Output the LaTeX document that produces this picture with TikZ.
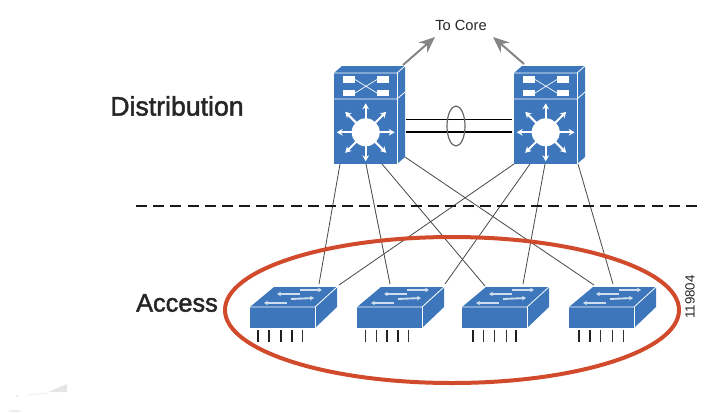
\documentclass[tikz,border=0pt]{standalone}
\usepackage{fontspec}
\setmainfont{Liberation Sans}
\newfontfamily\semibold[FakeBold=1.8]{Liberation Sans}
\usetikzlibrary{arrows.meta}
\definecolor{ciscoblue}{HTML}{3D76BB}
\definecolor{ringred}{HTML}{D04A2B}
\tikzset{
  x=0.75pt,y=-0.75pt,
  faceline/.style={draw=white,line width=0.6pt},
  link/.style={draw=black!72,line width=0.6pt},
  whitearrow/.style={draw=white,line width=1.5pt,-{Stealth[length=4.5pt,width=5pt]}},
  toparrow/.style={draw=white!75!ciscoblue,line width=1.4pt,-{Stealth[length=3pt,width=3.5pt]}},
  uplink/.style={draw=black!48,line width=1.5pt,-{Stealth[length=12pt,width=10pt]}},
  portthick/.style={draw=black!88,line width=1.1pt},
  portthin/.style={draw=black!80,line width=0.6pt},
  dist/.pic={
    \fill[ciscoblue] (0,7)--(8,0)--(71,0)--(63,7)--cycle;
    \fill[ciscoblue] (0,7) rectangle (63,98);
    \fill[ciscoblue] (63,7)--(71,0)--(71,91)--(63,98)--cycle;
    \draw[faceline] (0,7)--(63,7)--(71,0);
    \draw[faceline] (63,7)--(63,98);
    \draw[faceline] (0,33)--(63,33)--(71,26);
    \fill[white] (9,10) rectangle (21,17);
    \fill[white] (43,10) rectangle (55,17);
    \fill[white] (9,24) rectangle (21,30);
    \fill[white] (43,24) rectangle (55,30);
    \draw[white,line width=0.5pt] (21,13.5)--(43,27);
    \draw[white,line width=0.5pt] (21,27)--(43,13.5);
    \fill[white] (31.7,66.3) circle (14);
    \foreach \a in {0,45,...,315}{
      \draw[whitearrow] (31.7,66.3)++(\a:-13)--++(\a:-16);
    }
  },
  acc/.pic={
    \fill[ciscoblue] (0,20)--(24,0)--(87,0)--(65,20)--cycle;
    \fill[ciscoblue] (0,20) rectangle (65,41);
    \fill[ciscoblue] (65,20)--(87,0)--(87,20)--(65,41)--cycle;
    \draw[faceline] (0,20)--(65,20)--(87,0);
    \draw[faceline] (65,20)--(65,41);
    \draw[toparrow] (50,3)--(72,3);
    \draw[toparrow] (50,7)--(27,7);
    \draw[toparrow] (41,12)--(64,11);
    \draw[toparrow] (37,16)--(14,16);
  }
}
\begin{document}
\begin{tikzpicture}
\useasboundingbox (0,0) rectangle (720,412);
% faint smudge
\fill[black!10] (48,392)--(67,384)--(67,392)--cycle;
\draw[black!6,line width=0.8pt] (27,395)--(48,393);
\draw[black!6,line width=0.8pt] (16,396)--(19,396);
\draw[black!7,line width=0.8pt] (9,411)--(20,411);
% anchors
\coordinate (l1) at (340,164); \coordinate (l2) at (366,164);
\coordinate (l3) at (382,164); \coordinate (l4) at (405,157);
\coordinate (r1) at (514,164); \coordinate (r2) at (530,164);
\coordinate (r3) at (545,164); \coordinate (r4) at (578,164);
\coordinate (a1) at (319,284); \coordinate (a2) at (339,285);
\coordinate (a3) at (390,284); \coordinate (a4) at (445,284);
\coordinate (a5) at (485,286); \coordinate (a6) at (523,284);
\coordinate (a7) at (613,284); \coordinate (a8) at (594,285);
\draw[link] (l1)--(a1);
\draw[link] (l2)--(a3);
\draw[link] (l3)--(a5);
\draw[link] (l4)--(a8);
\draw[link] (r1)--(a2);
\draw[link] (r2)--(a4);
\draw[link] (r3)--(a6);
\draw[link] (r4)--(a7);
% switches
\pic at (334,66) {dist};
\pic at (514,66) {dist};
\pic at (250,287) {acc};
\pic at (357,287) {acc};
\pic at (462,287) {acc};
\pic at (569,287) {acc};
% port ticks
\foreach \t in {258,269,281,292}{\draw[portthick] (\t,330)--(\t,342);}
\draw[portthin] (302,330)--(302,342);
\foreach \t in {387,398}{\draw[portthick] (\t,330)--(\t,342);}
\foreach \t in {365,376,408}{\draw[portthin] (\t,330)--(\t,342);}
\foreach \t in {473,516}{\draw[portthick] (\t,330)--(\t,342);}
\foreach \t in {483,494,506}{\draw[portthin] (\t,330)--(\t,342);}
\foreach \t in {579,590}{\draw[portthick] (\t,330)--(\t,342);}
\foreach \t in {600,612,623}{\draw[portthin] (\t,330)--(\t,342);}
% stack links
\coordinate (sl1) at (406,119); \coordinate (sr1) at (512,119);
\coordinate (sl2) at (406,132); \coordinate (sr2) at (512,132);
\draw[black,line width=0.7pt] (sl1)--(sr1);
\draw[black,line width=1.2pt] (sl2)--(sr2);
\draw[black!60,line width=0.9pt] (456,126) ellipse [x radius=9,y radius=20];
% core arrows
\node[font=\fontsize{11}{13}\selectfont,text=black!85,inner sep=0pt] (core) at (461,25) {To Core};
\coordinate (cl) at (403,65); \coordinate (ct1) at (435,37);
\coordinate (cr) at (524,64); \coordinate (ct2) at (493,37);
\draw[uplink] (cl)--(ct1);
\draw[uplink] (cr)--(ct2);
% labels
\node[font=\semibold\fontsize{20}{24}\selectfont,text=black!85,inner sep=0pt] (dl) at (177,106) {Distribution};
\node[font=\semibold\fontsize{19}{23}\selectfont,text=black!85,inner sep=0pt] (al) at (177,303) {Access};
\node[font=\fontsize{10}{12}\selectfont,rotate=90,text=black!85,inner sep=0pt] (num) at (690,297) {119804};
% dashed divider
\coordinate (dv1) at (136,206); \coordinate (dv2) at (697,206);
\draw[black!90,line width=1.5pt,dash pattern=on 8.25pt off 4.64pt] (dv1)--(dv2);
% ring
\draw[ringred,line width=3pt] (452,310) ellipse [x radius=227,y radius=73];
\end{tikzpicture}
\end{document}
